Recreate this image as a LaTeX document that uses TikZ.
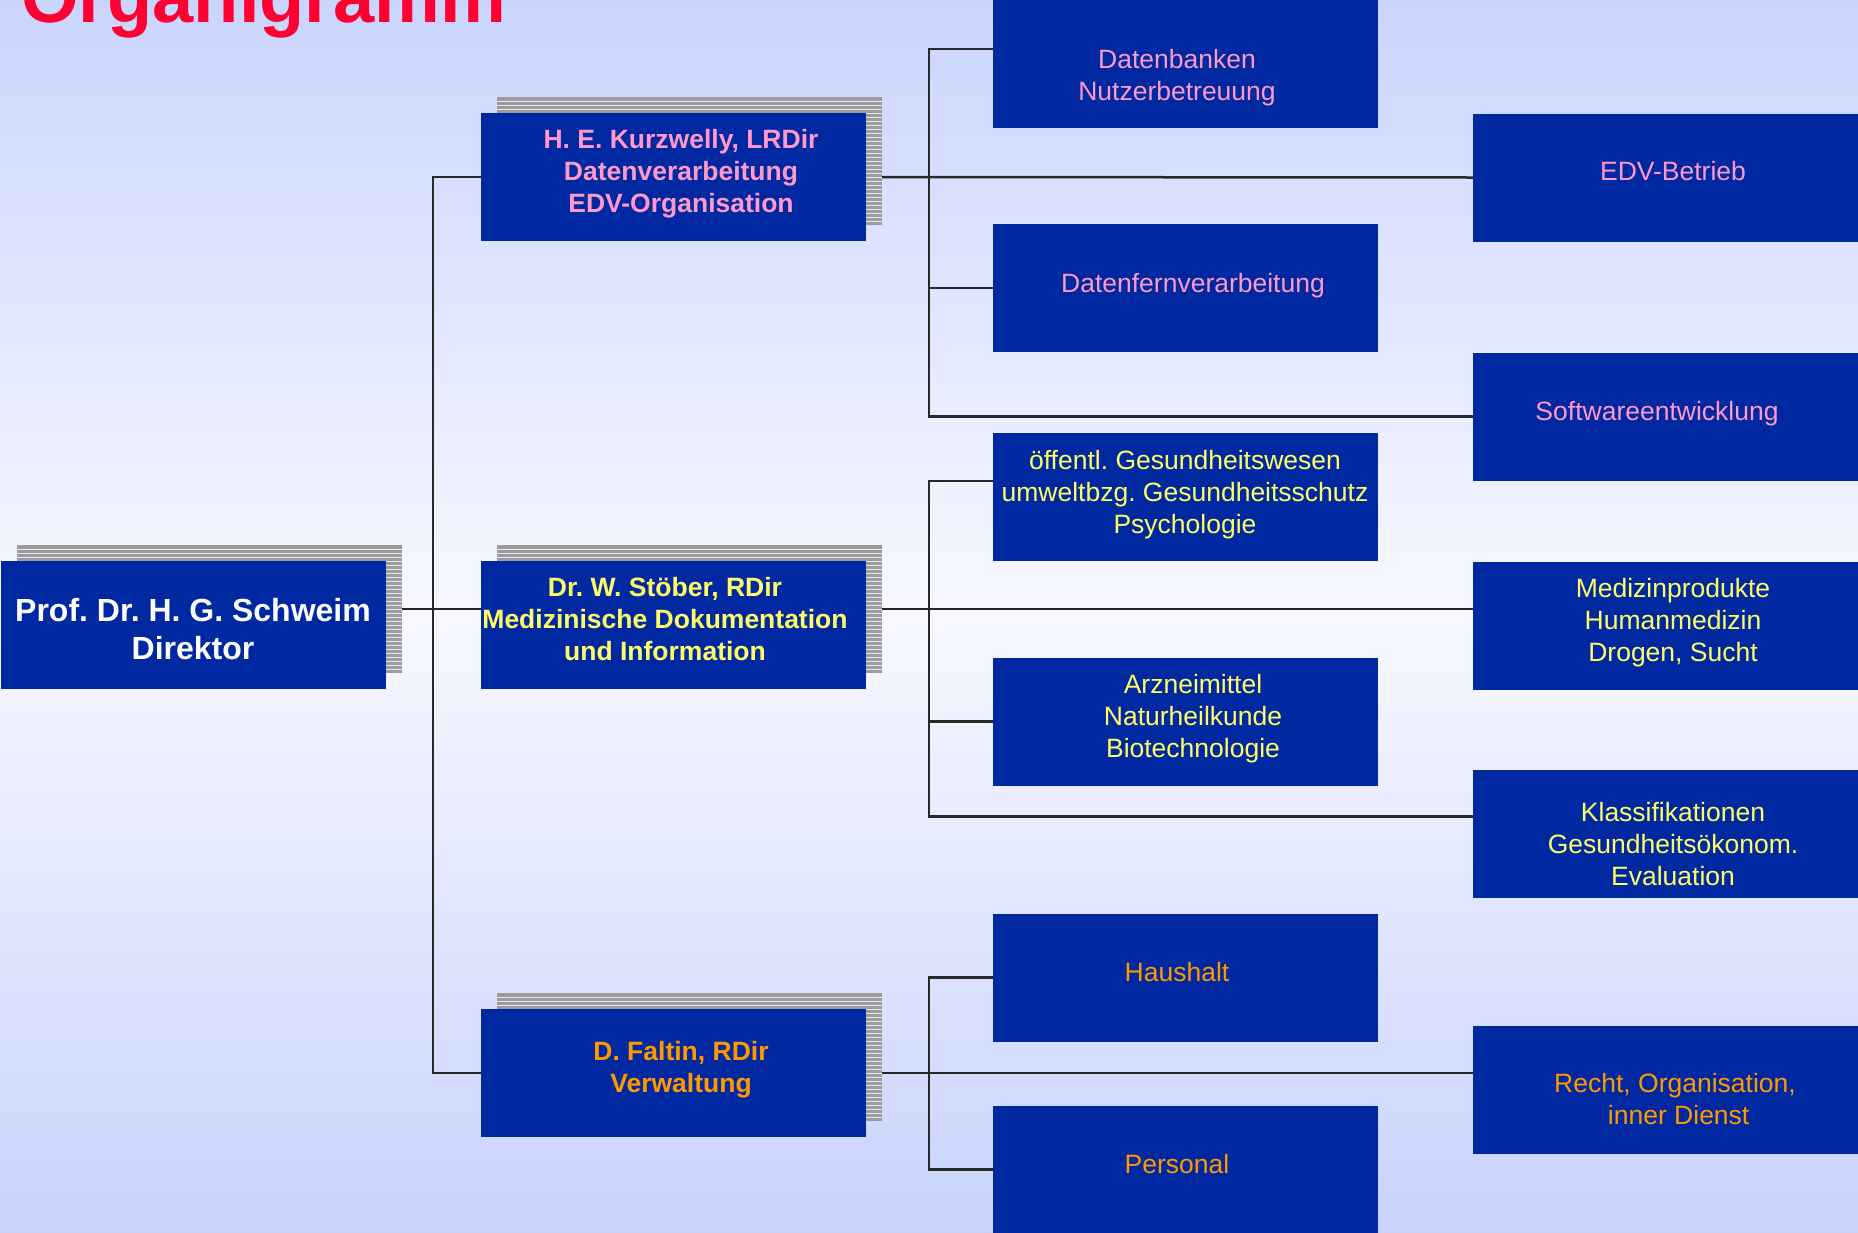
\documentclass[tikz,border=0pt]{standalone}
\usepackage{fontspec}
\setmainfont{Liberation Sans}
\frenchspacing
\definecolor{boxblue}{RGB}{0,40,160}
\definecolor{pinktxt}{RGB}{255,153,204}
\definecolor{yellowtxt}{RGB}{255,255,102}
\definecolor{orangetxt}{RGB}{255,153,0}
\definecolor{titlered}{RGB}{255,0,51}
\definecolor{bgtop}{RGB}{202,213,253}
\definecolor{bgmid}{RGB}{247,248,255}
\definecolor{bgbot}{RGB}{200,211,252}
\definecolor{shadowgrey}{RGB}{155,155,155}
\definecolor{stripelight}{RGB}{232,234,242}
\definecolor{linecol}{RGB}{40,40,40}
\pgfdeclarelayer{bglayer}
\pgfdeclarelayer{lines}
\pgfdeclarelayer{shad}
\pgfsetlayers{bglayer,lines,shad,main}
\begin{document}
\begin{tikzpicture}[x=1pt,y=-1pt,
  orgbox/.style={fill=boxblue, draw=none, minimum width=385pt, minimum height=128pt, inner sep=0pt},
  boldtxt/.style={font=\bfseries\fontsize{26.5}{32}\selectfont, align=center, inner sep=0pt},
  normtxt/.style={font=\fontsize{26.5}{32}\selectfont, align=center, inner sep=0pt},
  conn/.style={draw=linecol, line width=2.5pt},
  ]
\useasboundingbox (0,0) rectangle (1858,1232);
\begin{pgfonlayer}{bglayer}
  \fill[top color=bgtop, bottom color=bgmid] (0,0) rectangle (1858,616);
  \fill[top color=bgmid, bottom color=bgbot] (0,615) rectangle (1858,1232);
\end{pgfonlayer}

% title
\node[anchor=base west, inner sep=0pt, text=titlered, font=\bfseries\fontsize{74}{80}\selectfont] (title) at (21,22) {Organigramm};

% boxes
\node[orgbox] (dir)   at (193.5,625) {};
\node[orgbox] (kurz)  at (673.5,177) {};
\node[orgbox] (stoe)  at (673.5,625) {};
\node[orgbox] (falt)  at (673.5,1073) {};
\node[orgbox] (db)    at (1185.5,64) {};
\node[orgbox] (dfv)   at (1185.5,288) {};
\node[orgbox] (oef)   at (1185.5,497) {};
\node[orgbox] (arz)   at (1185.5,721.5) {};
\node[orgbox] (hh)    at (1185.5,977.5) {};
\node[orgbox] (pers)  at (1185.5,1169.5) {};
\node[orgbox] (edv)   at (1665.5,177.5) {};
\node[orgbox] (sw)    at (1665.5,416.5) {};
\node[orgbox] (med)   at (1665.5,625.5) {};
\node[orgbox] (kla)   at (1665.5,833.5) {};
\node[orgbox] (recht) at (1665.5,1089.5) {};

% texts
\node[boldtxt, text=white, font=\bfseries\fontsize{32}{38}\selectfont] (dirT) at (193,629) {Prof. Dr. H. G. Schweim\\Direktor};
\node[boldtxt, text=pinktxt] (kurzT) at (681,174) {H. E. Kurzwelly, LRDir\\Datenverarbeitung\\EDV-Organisation};
\node[boldtxt, text=yellowtxt] (stoeT) at (665,619) {Dr. W. Stöber, RDir\\Medizinische Dokumentation\\und Information};
\node[boldtxt, text=orangetxt] (faltT) at (681,1070) {D. Faltin, RDir\\Verwaltung};
\node[normtxt, text=pinktxt] (dbT) at (1177,78) {Datenbanken\\Nutzerbetreuung};
\node[normtxt, text=pinktxt] (dfvT) at (1193,286) {Datenfernverarbeitung};
\node[normtxt, text=pinktxt] (edvT) at (1673,171) {EDV-Betrieb};
\node[normtxt, text=pinktxt] (swT) at (1657,414) {Softwareentwicklung};
\node[normtxt, text=yellowtxt] (oefT) at (1185,495) {öffentl. Gesundheitswesen\\umweltbzg. Gesundheitsschutz\\Psychologie};
\node[normtxt, text=yellowtxt] (arzT) at (1193,719) {Arzneimittel\\Naturheilkunde\\Biotechnologie};
\node[normtxt, text=yellowtxt] (medT) at (1673,623) {Medizinprodukte\\Humanmedizin\\Drogen, Sucht};
\node[normtxt, text=yellowtxt] (klaT) at (1673,844) {Klassifikationen\\Gesundheitsökonom.\\Evaluation};
\node[normtxt, text=orangetxt] (hhT) at (1177,972) {Haushalt};
\node[normtxt, text=orangetxt] (persT) at (1177,1164) {Personal};
\node[normtxt, text=orangetxt] (rechtT) at (1675,1099) {Recht, Organisation,\\\ inner Dienst};

% striped shadows
\begin{pgfonlayer}{shad}
\foreach \sx/\sy in {17/545,497/97,497/545,497/993}{
  \fill[shadowgrey] (\sx,\sy) rectangle ++(385,128);
  \foreach \k in {1,...,31}{
    \draw[stripelight, line width=1pt] (\sx,{\sy+4*\k}) -- ++(385,0);
  }
}
\end{pgfonlayer}

% connectors
\begin{pgfonlayer}{lines}
\coordinate (vx) at (929,0);
\draw[conn] ([yshift=16pt]dir.east) -- ([yshift=16pt]stoe.west);
\draw[conn] (kurz.west) -- ++(-48,0) |- (falt.west);
\draw[conn] (kurz.east) -- (edv.west);
\draw[conn] ([yshift=15pt]db.west) -| (vx |- sw.west) -- (sw.west);
\draw[conn] (dfv.west) -- (dfv.west -| vx);
\draw[conn] ([yshift=16pt]stoe.east) -- ([yshift=16.5pt]med.west);
\coordinate (klc) at ([yshift=17pt]kla.west);
\draw[conn] ([yshift=16pt]oef.west) -| (vx |- klc) -- (klc);
\draw[conn] (arz.west) -- (arz.west -| vx);
\draw[conn] (falt.east) -- ([yshift=16.5pt]recht.west);
\draw[conn] (hh.west) -| (vx |- pers.west) -- (pers.west);
\end{pgfonlayer}
\end{tikzpicture}
\end{document}
